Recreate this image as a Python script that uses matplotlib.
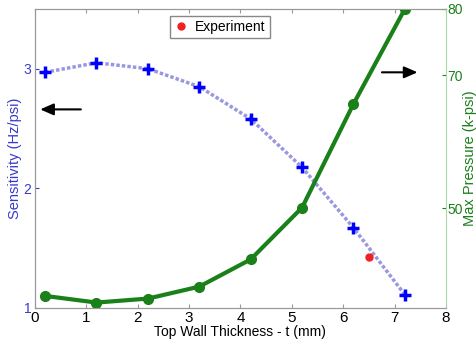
import matplotlib
matplotlib.use("Agg")
import matplotlib.pyplot as plt

plt.rcParams.update({
    "font.family": ["Liberation Sans", "DejaVu Sans"],
    "font.size": 10,
    "xtick.direction": "in",
    "ytick.direction": "in",
})

thickness = [0.2, 1.2, 2.2, 3.2, 4.2, 5.2, 6.2, 7.2]
sensitivity = [2.97, 3.05, 3.00, 2.85, 2.58, 2.175, 1.67, 1.11]
max_pressure = [36.8, 35.8, 36.4, 38.2, 42.3, 50.1, 65.7, 80.0]
exp_thickness = [6.5]
exp_sensitivity = [1.425]

BLUE = "#0000ff"
BLUE_TXT = "#3a3acc"
GREEN = "#1a801a"

fig = plt.figure(figsize=(4.77, 3.44), dpi=100)
ax = fig.add_axes([0.073, 0.105, 0.862, 0.869])
ax2 = ax.twinx()

ax.plot(thickness, sensitivity, linestyle=(0, (1, 0.6)), color="#9898e0", linewidth=2.5, zorder=3)
ax.plot(thickness, sensitivity, "+", color=BLUE, markersize=9, markeredgewidth=2.5, zorder=4)
exp, = ax.plot(exp_thickness, exp_sensitivity, "o", color="#ee2222", markersize=5, zorder=5,
               label="Experiment")

ax2.plot(thickness, max_pressure, "o-", color=GREEN, linewidth=3, markersize=7)

ax.set_xlim(0, 8)
ax.set_ylim(1, 3.5)
ax2.set_ylim(35, 80)
ax.set_xticks(range(9))
ax.set_yticks([1, 2, 3])
ax2.set_yticks([50, 70, 80])
ax.tick_params(axis="x", top=True, labelsize=11, length=3, pad=2)
ax.tick_params(axis="y", colors=BLUE_TXT, labelsize=10, length=3, pad=2.5)
ax2.tick_params(axis="y", colors=GREEN, labelsize=10, length=3, pad=1)
ax.tick_params(axis="x", colors="#999999", labelcolor="black")

for s in ["top", "bottom", "left"]:
    ax.spines[s].set_color("#999999")
    ax2.spines[s].set_color("#999999")
ax2.spines["right"].set_color("#a8d8a8")
ax.spines["right"].set_visible(False)

ax.set_xlabel("Top Wall Thickness - t (mm)", fontsize=10, labelpad=0)
ax.set_ylabel("Sensitivity (Hz/psi)", color=BLUE_TXT, fontsize=10.5, labelpad=1)
ax2.set_ylabel("Max Pressure (k-psi)", color=GREEN, fontsize=10.5, labelpad=0)

leg = ax.legend(handles=[exp], loc="upper center", bbox_to_anchor=(0.45, 1.0),
                fontsize=10, fancybox=False, edgecolor="#888888", handlelength=1,
                handletextpad=0.5, borderpad=0.3, framealpha=1)
leg.set_zorder(10)

ax.annotate("", xy=(0.05, 2.66), xytext=(0.95, 2.66),
            arrowprops=dict(arrowstyle="-|>,head_width=0.35,head_length=0.8",
                            color="black", lw=1.5))
ax.annotate("", xy=(7.5, 2.97), xytext=(6.7, 2.97),
            arrowprops=dict(arrowstyle="-|>,head_width=0.35,head_length=0.8",
                            color="black", lw=1.5))

fig.savefig("out.png", dpi=100)
